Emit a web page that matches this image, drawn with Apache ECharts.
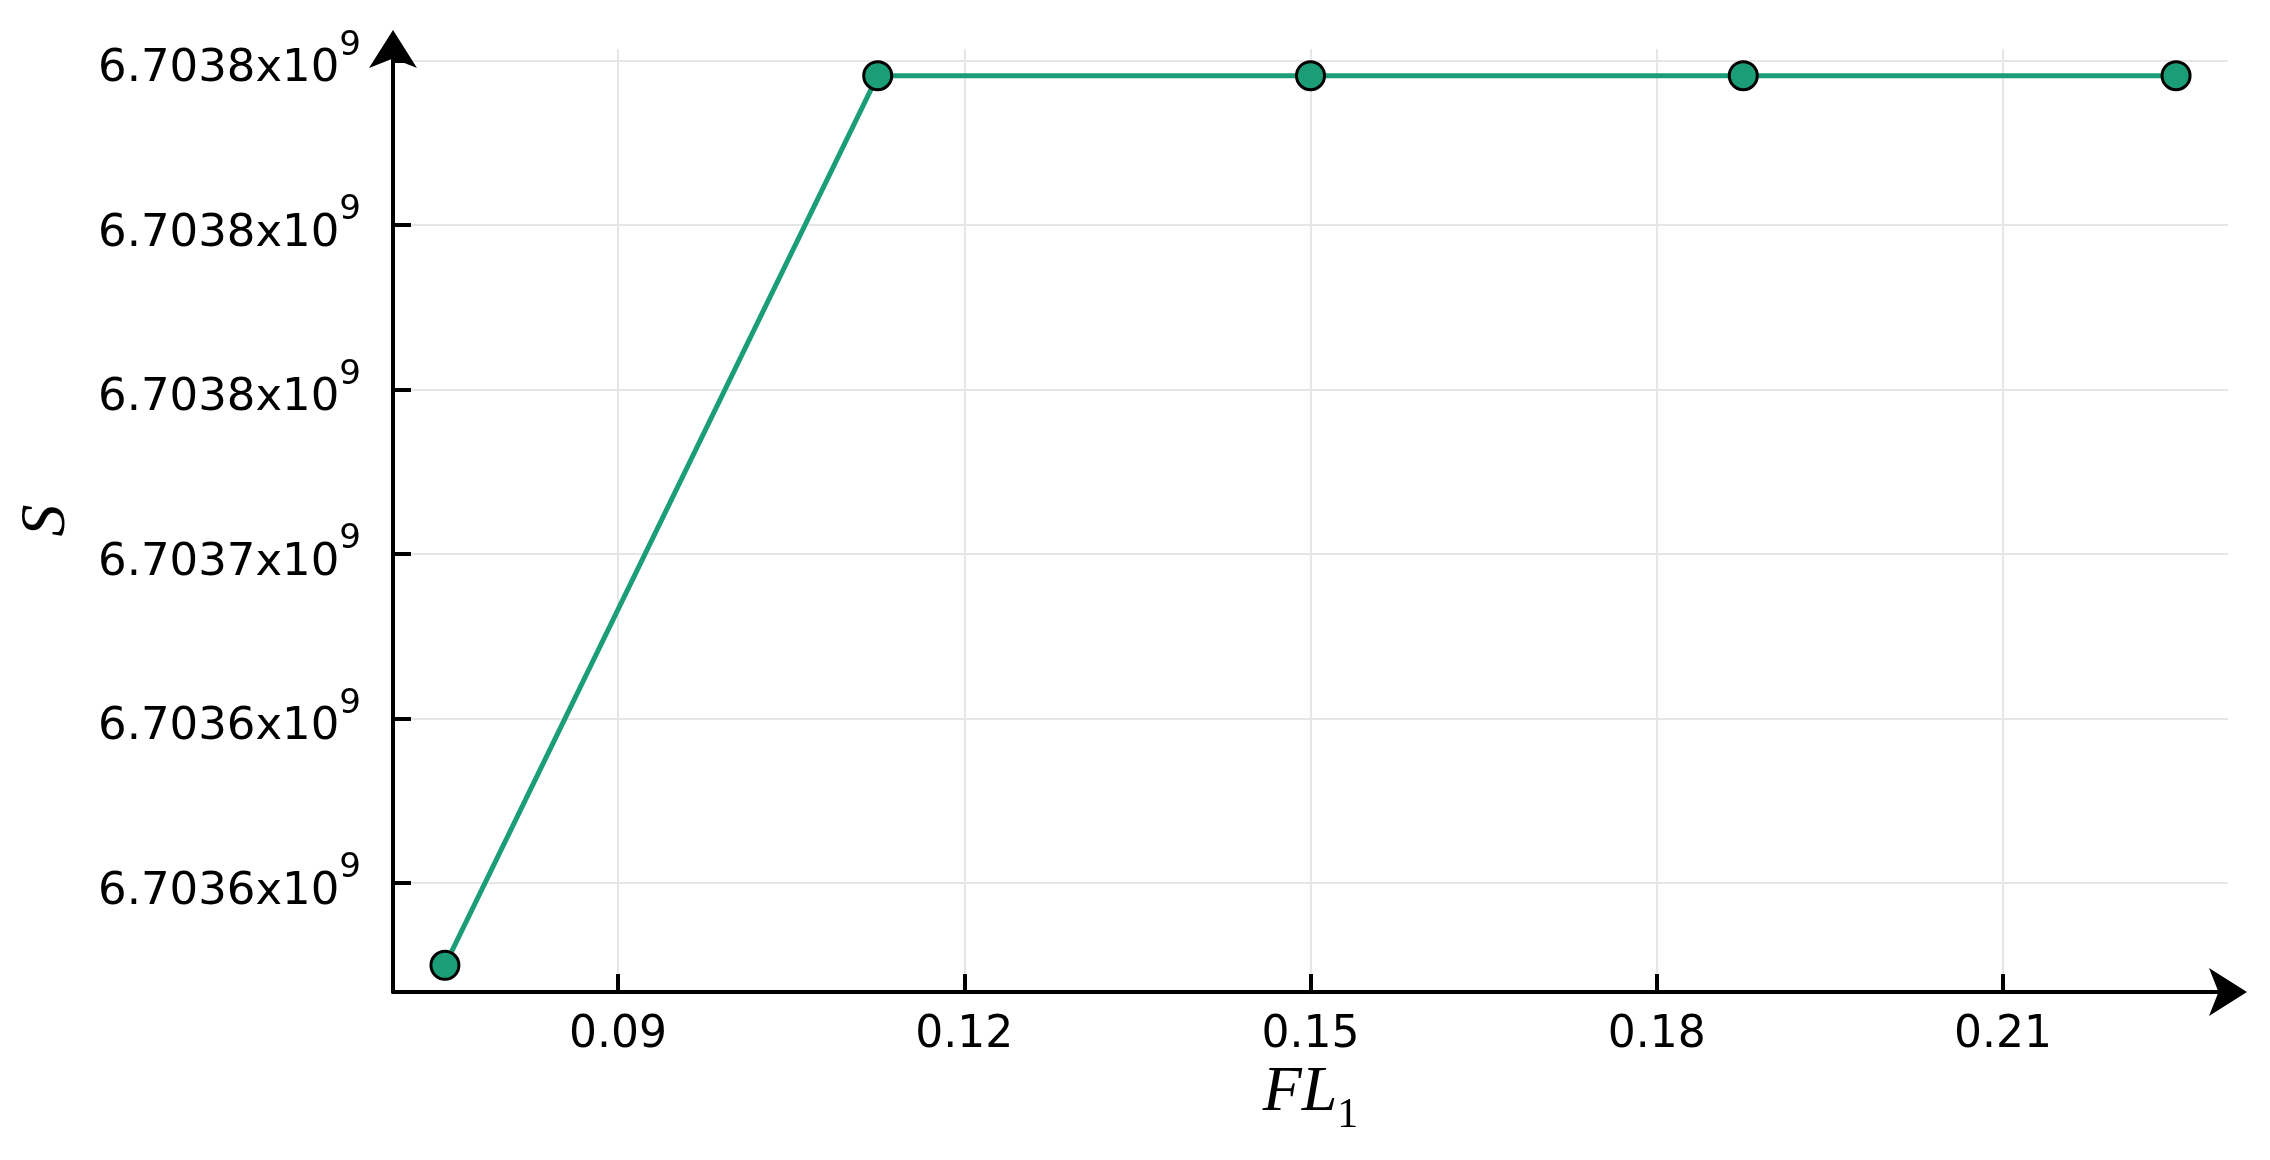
<!DOCTYPE html>
<html><head><meta charset="utf-8">
<script src="https://cdn.jsdelivr.net/npm/echarts@6/dist/echarts.min.js"></script>
<style>html,body{margin:0;padding:0;background:#fff}#c{width:2270px;height:1160px}</style>
</head><body><div id="c"></div>
<script>
// ---- data ----
const xValues = [0.075, 0.1125, 0.15, 0.1875, 0.225];
const sValues = [6703525000, 6703795400, 6703795400, 6703795400, 6703795400];
const xTicks = [0.09, 0.12, 0.15, 0.18, 0.21];
const xTickLabels = ['0.09', '0.12', '0.15', '0.18', '0.21'];
const yTicks = [6703550000, 6703600000, 6703650000, 6703700000, 6703750000, 6703800000];
const yTickMantissas = ['6.7036', '6.7036', '6.7037', '6.7038', '6.7038', '6.7038'];
const yTickExponent = '9';
const xName = ['FL', '1'];
const yName = 'S';

function nearestIdx(arr, v) {
  let best = 0, bd = Infinity;
  arr.forEach((t, i) => { const d = Math.abs(t - v); if (d < bd) { bd = d; best = i; } });
  return best;
}
const pad = (lo, hi, f) => (hi - lo) * f;

const chart = echarts.init(document.getElementById('c'), null, { renderer: 'canvas' });
const SANS = 'DejaVu Sans';
const SERIF = 'Liberation Serif';

chart.setOption({
  animation: false,
  backgroundColor: '#ffffff',
  grid: { left: 393, right: 42, top: 49, bottom: 168, containLabel: false, outerBoundsMode: 'none' },
  xAxis: {
    type: 'value',
    min: v => v.min - pad(v.min, v.max, 0.03),
    max: v => v.max + pad(v.min, v.max, 0.03),
    name: '{i|' + xName[0] + '}{s|' + xName[1] + '}',
    nameLocation: 'middle',
    nameGap: 69,
    nameMoveOverlap: false,
    nameTextStyle: {
      rich: {
        i: { fontFamily: SERIF, fontStyle: 'italic', fontSize: 64, lineHeight: 64, height: 64, color: '#000', verticalAlign: 'top' },
        s: { fontFamily: SERIF, fontSize: 42, lineHeight: 76, height: 42, color: '#000', verticalAlign: 'bottom' }
      }
    },
    axisLine: { onZero: false, lineStyle: { color: '#000', width: 4 }, symbol: ['none', 'arrow'], symbolSize: [36, 38], symbolOffset: [0, 19] },
    axisTick: { inside: true, length: 18, lineStyle: { color: '#000', width: 4 }, customValues: xTicks },
    axisLabel: {
      customValues: xTicks,
      margin: 22,
      fontFamily: SANS, fontSize: 44, color: '#000',
      formatter: v => xTickLabels[nearestIdx(xTicks, v)]
    },
    splitLine: { show: true, lineStyle: { color: '#e6e6e6', width: 2 }, customValues: xTicks }
  },
  yAxis: {
    type: 'value',
    scale: true,
    min: v => v.min - pad(v.min, v.max, 0.03),
    max: v => v.max + pad(v.min, v.max, 0.03),
    name: yName,
    nameLocation: 'middle',
    nameGap: 314,
    nameRotate: 90,
    nameMoveOverlap: false,
    nameTextStyle: { fontFamily: SERIF, fontStyle: 'italic', fontSize: 64, lineHeight: 64, color: '#000' },
    axisLine: { onZero: false, lineStyle: { color: '#000', width: 4 }, symbol: ['none', 'arrow'], symbolSize: [36, 38], symbolOffset: [0, 19] },
    axisTick: { inside: true, length: 18, lineStyle: { color: '#000', width: 4 }, customValues: yTicks },
    axisLabel: {
      customValues: yTicks,
      margin: 32,
      formatter: v => '{b|' + yTickMantissas[nearestIdx(yTicks, v)] + 'x10}{s|' + yTickExponent + '}',
      rich: {
        b: { fontFamily: SANS, fontSize: 45, lineHeight: 45, height: 45, color: '#000', verticalAlign: 'bottom' },
        s: { fontFamily: SANS, fontSize: 34, lineHeight: 63, height: 34, color: '#000', verticalAlign: 'top' }
      }
    },
    splitLine: { show: true, lineStyle: { color: '#e6e6e6', width: 2 }, customValues: yTicks }
  },
  series: [{
    type: 'line',
    data: xValues.map((x, i) => [x, sValues[i]]),
    lineStyle: { color: '#1b9e77', width: 5 },
    symbol: 'circle',
    symbolSize: 28,
    itemStyle: { color: '#1b9e77', borderColor: '#000', borderWidth: 3 },
    clip: false
  }]
});
</script>
</body></html>
